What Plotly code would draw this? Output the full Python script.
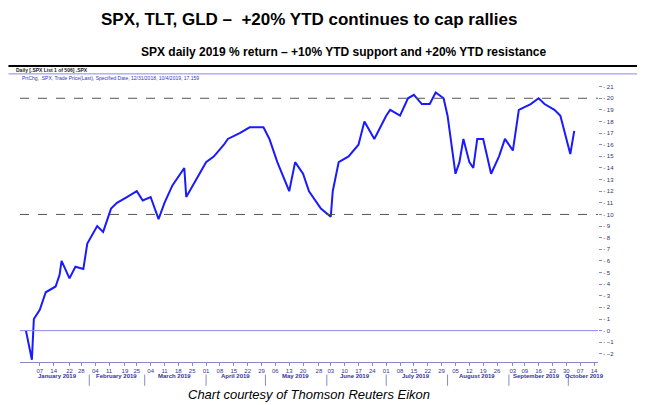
import plotly.graph_objects as go

dates = ["2018-12-31", "2019-01-03", "2019-01-04", "2019-01-07", "2019-01-10", "2019-01-15",
         "2019-01-17", "2019-01-18", "2019-01-22", "2019-01-25", "2019-01-29", "2019-01-31",
         "2019-02-05", "2019-02-08", "2019-02-12", "2019-02-15", "2019-02-20", "2019-02-25",
         "2019-02-28", "2019-03-04", "2019-03-08", "2019-03-11", "2019-03-15", "2019-03-21",
         "2019-03-22", "2019-03-27", "2019-04-01", "2019-04-05", "2019-04-10", "2019-04-12",
         "2019-04-18", "2019-04-23", "2019-04-30", "2019-05-03", "2019-05-07", "2019-05-13",
         "2019-05-16", "2019-05-20", "2019-05-23", "2019-05-29", "2019-06-03", "2019-06-04",
         "2019-06-07", "2019-06-12", "2019-06-17", "2019-06-20", "2019-06-25", "2019-07-01",
         "2019-07-03", "2019-07-08", "2019-07-12", "2019-07-15", "2019-07-19", "2019-07-23",
         "2019-07-26", "2019-07-30", "2019-08-01", "2019-08-05", "2019-08-07", "2019-08-09",
         "2019-08-12", "2019-08-14", "2019-08-16", "2019-08-19", "2019-08-23", "2019-08-27",
         "2019-08-30", "2019-09-03", "2019-09-06", "2019-09-12", "2019-09-16", "2019-09-19",
         "2019-09-24", "2019-09-27", "2019-10-02", "2019-10-04"]
ytd = [0, -2.5, 1, 1.8, 3.3, 3.8, 4.8, 6, 4.5, 5.5, 5.3, 7.5,
       9, 8.5, 10.5, 11, 11.5, 12, 11.2, 11.5, 9.6, 11, 12.5, 14,
       11.5, 13, 14.5, 15, 16, 16.5, 17, 17.5, 17.5, 16.5, 14.5, 12,
       14.5, 13.5, 12, 10.5, 9.8, 12, 14.5, 15, 16, 18, 16.5, 18.5,
       19, 18.5, 20, 20.3, 19.5, 19.5, 20.5, 20, 18.5, 13.5, 14.5, 16.5,
       14.5, 14, 16.5, 16.5, 13.5, 15, 16.5, 15.5, 19, 19.5, 20, 19.5,
       19, 18.5, 15.2, 17.2]

tick_days = ["2019-01-07", "2019-01-14", "2019-01-22", "2019-01-28", "2019-02-04", "2019-02-11",
             "2019-02-19", "2019-02-25", "2019-03-04", "2019-03-11", "2019-03-18", "2019-03-25",
             "2019-04-01", "2019-04-08", "2019-04-15", "2019-04-22", "2019-04-29", "2019-05-06",
             "2019-05-13", "2019-05-20", "2019-05-28", "2019-06-03", "2019-06-10", "2019-06-17",
             "2019-06-24", "2019-07-01", "2019-07-08", "2019-07-15", "2019-07-22", "2019-07-29",
             "2019-08-05", "2019-08-12", "2019-08-19", "2019-08-26", "2019-09-03", "2019-09-09",
             "2019-09-16", "2019-09-23", "2019-09-30", "2019-10-07", "2019-10-14"]
months = ["January 2019", "February 2019", "March 2019", "April 2019", "May 2019", "June 2019",
          "July 2019", "August 2019", "September 2019", "October 2019"]
month_mid = ["2019-01-16", "2019-02-15", "2019-03-16", "2019-04-16", "2019-05-16", "2019-06-15",
             "2019-07-16", "2019-08-16", "2019-09-15", "2019-10-09"]
month_start = ["2019-02-01", "2019-03-01", "2019-04-01", "2019-05-01", "2019-06-01",
               "2019-07-01", "2019-08-01", "2019-09-01", "2019-10-01"]

blue = "#1a1aff"
fig = go.Figure(go.Scatter(x=dates, y=ytd, mode="lines", line=dict(color=blue, width=2)))

for lvl in [10, 20]:
    fig.add_hline(y=lvl, line=dict(color="#555555", width=1, dash="dash"))
fig.add_hline(y=0, line=dict(color="#8888ee", width=1))

fig.update_layout(
    width=645, height=405,
    margin=dict(l=12, r=55, t=74, b=51),
    plot_bgcolor="white", paper_bgcolor="white",
    showlegend=False,
    font=dict(family="Liberation Sans", color="#333399"),
    xaxis=dict(range=["2018-12-28", "2019-10-16"], tickvals=tick_days,
               ticktext=[d[-2:] for d in tick_days], tickfont=dict(size=6, color="#333399"),
               ticks="outside", ticklen=3, tickcolor="#8888cc", showgrid=False,
               showline=True, linecolor="#8888cc", zeroline=False),
    yaxis=dict(range=[-2.7, 21.4], side="right", dtick=1, tickfont=dict(size=6, color="#333366"),
               ticks="outside", ticklen=3, tickcolor="#8888cc", showgrid=False,
               showline=False, zeroline=False, tickprefix="- "),
)

fig.add_annotation(text="<b>SPX, TLT, GLD –  +20% YTD continues to cap rallies</b>", xref="paper",
                   yref="paper", x=0.5, y=1.222, xanchor="center", yanchor="middle", showarrow=False,
                   font=dict(size=17, color="black", family="Liberation Sans"))
fig.add_annotation(text="<b>SPX daily 2019 % return – +10% YTD support and +20% YTD resistance</b>",
                   xref="paper", yref="paper", x=0.56, y=1.107, xanchor="center", yanchor="middle",
                   showarrow=False, font=dict(size=12, color="black", family="Liberation Sans"))
fig.add_annotation(text="<b>Daily [.SPX List 1 of 506] .SPX</b>", xref="paper", yref="paper",
                   x=-0.01, y=1.043, xanchor="left", yanchor="middle", showarrow=False,
                   font=dict(size=5, color="#222222"))
fig.add_annotation(text="PrtChg, .SPX, Trade Price(Last), Specified Date, 12/31/2018, 10/4/2019, 17.159",
                   xref="paper", yref="paper", x=0.0, y=1.014, xanchor="left", yanchor="middle",
                   showarrow=False, font=dict(size=5, color="#3333cc"))
fig.add_annotation(text="<i>Chart courtesy of Thomson Reuters Eikon</i>", xref="paper", yref="paper",
                   x=0.5, y=-0.115, xanchor="center", yanchor="middle", showarrow=False,
                   font=dict(size=13, color="black", family="Liberation Sans"))
for m, mx in zip(months, month_mid):
    fig.add_annotation(text="<b>" + m + "</b>", x=mx, xref="x", yref="paper", y=-0.068,
                       showarrow=False, font=dict(size=6, color="#333399"))
for ms in month_start:
    fig.add_shape(type="line", x0=ms, x1=ms, xref="x", yref="paper", y0=-0.045, y1=-0.085,
                  line=dict(color="#8888cc", width=1))
fig.add_shape(type="line", xref="paper", yref="paper", x0=-0.02, x1=1.085, y0=1.057, y1=1.057,
              line=dict(color="black", width=2))
fig.add_shape(type="line", xref="paper", yref="paper", x0=-0.02, x1=1.085, y0=1.029, y1=1.029,
              line=dict(color="#8888ee", width=1))

fig.write_html("out.html")
